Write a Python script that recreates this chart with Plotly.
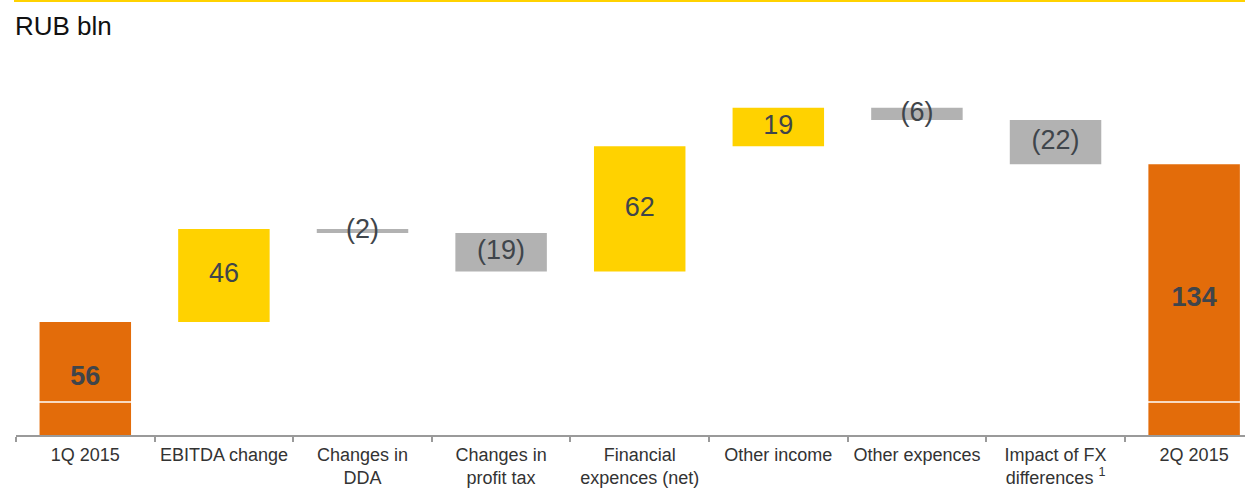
import plotly.graph_objects as go

categories = ["1Q 2015", "EBITDA change", "Changes in<br>DDA", "Changes in<br>profit tax",
              "Financial<br>expences (net)", "Other income", "Other expences",
              "Impact of FX<br>differences <sup>1</sup>", "2Q 2015"]
values = [56, 46, -2, -19, 62, 19, -6, -22, 134]
measures = ["absolute", "relative", "relative", "relative", "relative",
            "relative", "relative", "relative", "total"]
labels = ["<b>56</b>", "46", "(2)", "(19)", "62", "19", "(6)", "(22)", "<b>134</b>"]

ORANGE = "#E36C0A"
YELLOW = "#FFD200"
GREY = "#B2B2B2"
TEXT = "#3F454B"

# label positions at the middle of each bar
mids = []
run = 0
for m, v in zip(measures, values):
    if m == "absolute":
        lo, hi = 0, v
        run = v
    elif m == "total":
        lo, hi = 0, run
    else:
        lo, hi = run, run + v
        run = run + v
    mids.append((lo + hi) / 2)

fig = go.Figure()
fig.add_trace(go.Waterfall(
    x=categories, y=values, measure=measures,
    increasing=dict(marker=dict(color=YELLOW, line=dict(width=0))),
    decreasing=dict(marker=dict(color=GREY, line=dict(width=0))),
    totals=dict(marker=dict(color=ORANGE, line=dict(width=0))),
    connector=dict(visible=False),
    hoverinfo="skip", showlegend=False,
))
fig.add_trace(go.Scatter(
    x=categories, y=mids, mode="text", text=labels,
    textfont=dict(family="Liberation Sans, Arial", size=27, color=TEXT),
    textposition="middle center", hoverinfo="skip", showlegend=False,
))

W, H = 1245, 488
ml, mr, mt, mb = 16, 0, 60, 53
plot_h = H - mt - mb
ymax = plot_h / 2.02

fig.update_layout(
    width=W, height=H,
    margin=dict(l=ml, r=mr, t=mt, b=mb, autoexpand=False),
    paper_bgcolor="white", plot_bgcolor="white",
    waterfallgap=0.34,
    font=dict(family="Liberation Sans, Arial", color=TEXT),
    xaxis=dict(
        type="category", range=[-0.5, 8.367], automargin=False, tickangle=0,
        showline=True, linecolor="#9A9A9A", linewidth=2,
        ticks="outside", tickson="boundaries", ticklen=5, tickwidth=2, tickcolor="#9A9A9A",
        tickfont=dict(size=18, color="#333333"), ticklabelstandoff=2,
        showgrid=False, zeroline=False, fixedrange=True,
    ),
    yaxis=dict(range=[0, ymax], visible=False, showgrid=False, zeroline=False,
               automargin=False),
    shapes=[
        dict(type="line", xref="paper", yref="paper",
             x0=-2 / (W - ml - mr), x1=1.0,
             y0=1 + (mt - 1) / plot_h, y1=1 + (mt - 1) / plot_h,
             line=dict(color=YELLOW, width=2)),
        dict(type="line", xref="paper", yref="y", x0=0, x1=1, y0=16.3, y1=16.3,
             line=dict(color="white", width=1.5), layer="above"),
    ],
    annotations=[
        dict(text="RUB bln", xref="paper", yref="paper", x=-3 / (W - ml - mr),
             y=1 + (mt - 26) / plot_h, xanchor="left", yanchor="middle",
             showarrow=False, font=dict(size=26, color="#111111")),
    ],
)

fig.write_html("out.html", config={"displayModeBar": False},
               post_script="document.body.style.margin='0px';")
